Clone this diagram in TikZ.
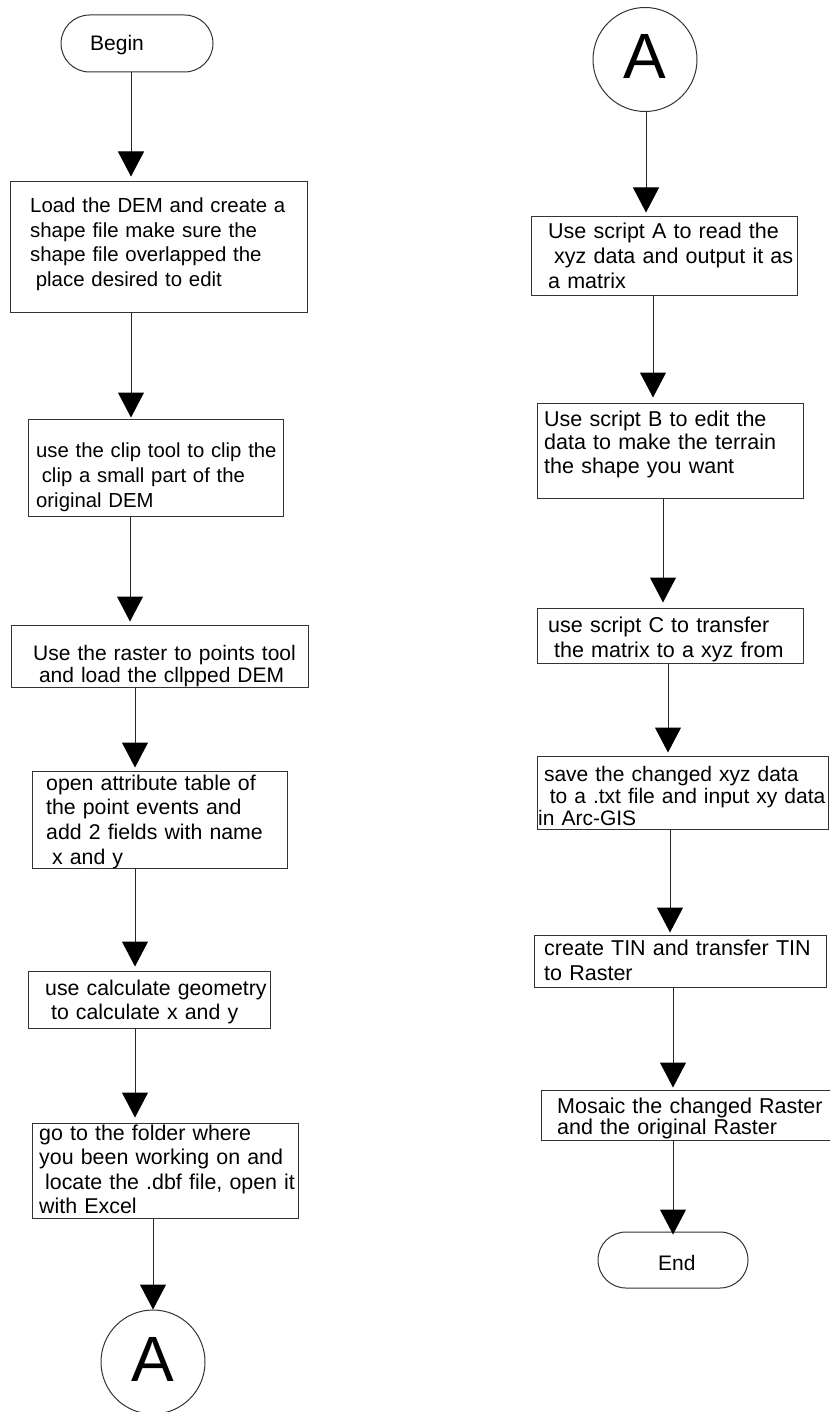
\documentclass[tikz,border=0pt]{standalone}
\usepackage{fontspec}
\setmainfont{Liberation Sans}
\usetikzlibrary{arrows.meta}
% a leading word space at the start of a text line
\newcommand\lsp{\hspace*{0.278em}}
\begin{document}
\begin{tikzpicture}[x=1pt,y=-1pt,
  box/.style 2 args={draw=black!80, line width=1pt, rectangle, inner sep=0pt,
    minimum width=#1pt, minimum height=#2pt},
  pill/.style 2 args={draw=black!80, line width=1pt, rectangle, inner sep=0pt,
    rounded corners=#2/2*1pt, minimum width=#1pt, minimum height=#2pt},
  conn/.style={draw=black!80, line width=1pt, circle, inner sep=0pt,
    minimum size=104pt, font=\fontsize{64}{64}\selectfont, text depth=6pt},
  txt/.style 2 args={anchor=base west, inner sep=0pt, text width=330pt,
    align=left, font=\fontsize{#1}{#2}\selectfont},
  flow/.style={draw=black!85, line width=1pt,
    -{Triangle[length=25pt,width=26pt,black]}}
]
\path[use as bounding box, fill=white] (0,0) rectangle (830,1412);
\clip (0,0) rectangle (830,1412);

% ---------- left column ----------
\node[pill={152}{57}] (begin) at (137,43.5) {};
\node[txt={21}{24}] (tbegin) at (90,51) {Begin};

\node[box={297}{130}] (b1) at (158.5,247) {};
\node[txt={20.4}{24.5}] (t1) at (30,213)
  {Load the DEM and create a\\shape file make sure the\\shape file overlapped the\\\lsp place desired to edit};

\node[box={255}{97}] (b2) at (155.5,467.5) {};
\node[txt={20.3}{25}] (t2) at (36,457)
  {use the clip tool to clip the\\\lsp clip a small part of the\\original DEM};

\node[box={297}{62}] (b3) at (159.5,656) {};
\node[txt={21}{22}] (t3) at (33,660)
  {Use the raster to points tool\\\lsp and load the cllpped DEM};

\node[box={255}{97}] (b4) at (159.5,819.5) {};
\node[txt={21.3}{24.7}] (t4) at (46,790)
  {open attribute table of\\the point events and\\add 2 fields with name\\\lsp x and y};

\node[box={242}{57}] (b5) at (149,999.5) {};
\node[txt={21.3}{24}] (t5) at (45,995)
  {use calculate geometry\\\lsp to calculate x and y};

\node[box={266}{95}] (b6) at (165,1170.5) {};
\node[txt={21.4}{24.5}] (t6) at (39,1140)
  {go to the folder where\\you been working on and\\\lsp locate the .dbf file, open it\\with Excel};

\node[conn] (a1) at (153,1362) {A};

% ---------- right column ----------
\node[conn] (a2) at (645,59.5) {A};

\node[box={266}{79}] (r1) at (664,256.5) {};
\node[txt={21.5}{25}] (s1) at (548,239)
  {Use script A to read the\\\lsp xyz data and output it as\\a matrix};

\node[box={266}{95}] (r2) at (670,450.5) {};
\node[txt={21.5}{23.5}] (s2) at (544,426)
  {Use script B to edit the\\data to make the terrain\\the shape you want};

\node[box={266}{55}] (r3) at (670,635.5) {};
\node[txt={21.5}{25}] (s3) at (548,632)
  {use script C to transfer\\\lsp the matrix to a xyz from};

\node[box={291}{73}] (r4) at (682.5,792.5) {};
\node[txt={21}{22}] (s4) at (538,781)
  {\lsp save the changed xyz data\\\lsp\lsp to a .txt file and input xy data\\in Arc-GIS};

\node[box={292}{52}] (r5) at (680,961) {};
\node[txt={21.5}{25}] (s5) at (544,955)
  {create TIN and transfer TIN\\to Raster};

\node[box={299}{50}] (r6) at (690.5,1115) {};
\node[txt={21.5}{21}] (s6) at (557,1113)
  {Mosaic the changed Raster\\and the original Raster};

\node[pill={150}{56}] (end) at (673,1260) {};
\node[txt={21}{24}] (tend) at (658,1270) {End};

% ---------- connector columns ----------
\coordinate (c1) at (131,0);
\coordinate (c2) at (131,0);
\coordinate (c3) at (130,0);
\coordinate (c4) at (135,0);
\coordinate (c5) at (135,0);
\coordinate (c6) at (135,0);
\coordinate (c7) at (153,0);
\coordinate (d1) at (646,0);
\coordinate (d2) at (653,0);
\coordinate (d3) at (663,0);
\coordinate (d4) at (668,0);
\coordinate (d5) at (670,0);
\coordinate (d6) at (673,0);
\coordinate (d7) at (673,0);

% ---------- connectors ----------
\draw[flow, shorten >=5pt] (begin.south -| c1) -- (b1.north -| c1);
\draw[flow, shorten >=1pt] (b1.south -| c2) -- (b2.north -| c2);
\draw[flow, shorten >=3pt] (b2.south -| c3) -- (b3.north -| c3);
\draw[flow, shorten >=3pt] (b3.south -| c4) -- (b4.north -| c4);
\draw[flow, shorten >=4pt] (b4.south -| c5) -- (b5.north -| c5);
\draw[flow, shorten >=5pt] (b5.south -| c6) -- (b6.north -| c6);
\draw[flow] (b6.south -| c7) -- (a1.north -| c7);

\draw[flow, shorten >=4pt] (a2.south -| d1) -- (r1.north -| d1);
\draw[flow, shorten >=5pt] (r1.south -| d2) -- (r2.north -| d2);
\draw[flow, shorten >=5pt] (r2.south -| d3) -- (r3.north -| d3);
\draw[flow, shorten >=3pt] (r3.south -| d4) -- (r4.north -| d4);
\draw[flow, shorten >=2pt] (r4.south -| d5) -- (r5.north -| d5);
\draw[flow, shorten >=2pt] (r5.south -| d6) -- (r6.north -| d6);
\draw[flow, shorten >=-3pt] (r6.south -| d7) -- (end.north -| d7);
\end{tikzpicture}
\end{document}
